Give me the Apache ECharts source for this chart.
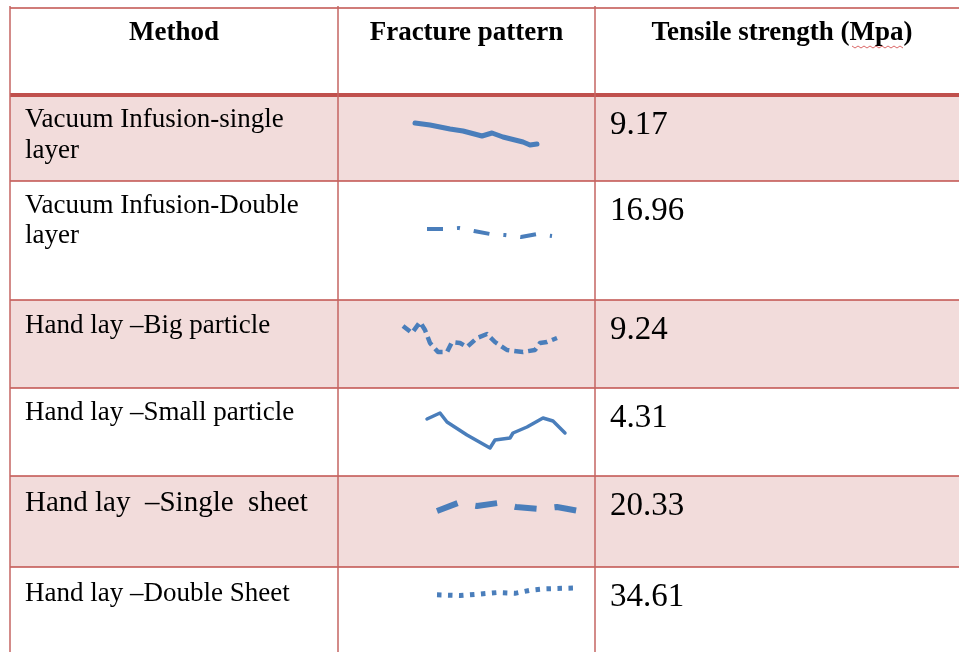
<!DOCTYPE html>
<html>
<head>
<meta charset="utf-8">
<style>
  html, body { margin: 0; padding: 0; background: #fff; }
  #main { width: 959px; height: 652px; }
</style>
<script src="https://cdn.jsdelivr.net/npm/echarts@6/dist/echarts.min.js"></script>
</head>
<body>
<div id="main"></div>
<script>
// table content
const headers = ["Method", "Fracture pattern", "Tensile strength (Mpa)"];
const methods = [
  ["Vacuum Infusion-single", "layer"],
  ["Vacuum Infusion-Double", "layer"],
  ["Hand lay \u2013Big particle"],
  ["Hand lay \u2013Small particle"],
  ["Hand lay  \u2013Single  sheet"],
  ["Hand lay \u2013Double Sheet"]
];
const strengths = ["9.17", "16.96", "9.24", "4.31", "20.33", "34.61"];

// fracture traces, [x, y] in px inside each pattern cell
const trace1 = [[77, 28], [92, 30], [112, 34], [125, 36], [144, 41], [154, 38], [165, 42], [185, 47], [192, 50], [199, 49]];
const trace2 = [[89, 48], [105, 48], [121, 47], [136, 50], [152, 53], [167, 54], [183, 56], [199, 53], [214, 55]];
const trace3 = [[65, 26], [74, 33], [82, 22], [87, 30], [92, 43], [100, 52], [109, 52], [114, 42], [122, 43], [129, 47], [139, 38], [149, 34], [157, 42], [169, 50], [185, 52], [197, 50], [202, 43], [209, 42], [219, 38]];
const trace4 = [[89, 31], [102, 25], [109, 34], [129, 47], [152, 60], [157, 52], [172, 50], [175, 45], [189, 39], [205, 30], [215, 33], [227, 45]];
const trace5 = [[99, 35], [120, 27], [139, 30], [160, 27], [178, 31], [201, 33], [219, 31], [241, 35]];
const trace6 = [[99, 37], [122, 38], [142, 36], [159, 34], [177, 35], [192, 31], [207, 29], [235, 28]];
const traces = [trace1, trace2, trace3, trace4, trace5, trace6];

// layout
const colX = [10, 338, 595, 969];
const headTop = 8;
const rowTops = [95, 181, 300, 388, 476, 567];
const rowBottom = 680;
const red = "#c0504d";
const pink = "#f2dcdb";
const blue = "#4a7ebb";
const serif = "'Liberation Serif', 'Times New Roman', serif";

const lineStyles = [
  { width: 5, type: "solid", cap: "round" },
  { width: 4, type: [16, 14, 3, 14], cap: "butt" },
  { width: 4.5, type: [9, 5], cap: "butt" },
  { width: 3.5, type: "solid", cap: "round" },
  { width: 6, type: [22, 18], cap: "butt" },
  { width: 5, type: [4.5, 6.5], cap: "butt" }
];
const methodSize = [27, 27, 27, 27, 29, 27];
const methodBase = [[127, 158], [213, 243], [333], [420], [512], [601]];
const valueBase = [135, 221, 340, 428, 516, 607];
// verticalAlign bottom sits on the descent, so push baselines down
const desc = (size) => Math.round(size * 0.22);

const rowH = (i) => (i < rowTops.length - 1 ? rowTops[i + 1] : rowBottom) - rowTops[i];

const chart = echarts.init(document.getElementById("main"));

const grids = [], xAxes = [], yAxes = [], series = [];
traces.forEach((t, i) => {
  grids.push({ left: colX[1], top: rowTops[i], width: colX[2] - colX[1], height: rowH(i) });
  xAxes.push({ type: "value", gridIndex: i, min: 0, max: colX[2] - colX[1], show: false });
  yAxes.push({ type: "value", gridIndex: i, min: 0, max: rowH(i), inverse: true, show: false });
  series.push({
    type: "line",
    xAxisIndex: i,
    yAxisIndex: i,
    data: t,
    symbol: "none",
    silent: true,
    lineStyle: Object.assign({ color: blue, join: "round" }, lineStyles[i])
  });
});

const graphics = [];
// pink rows
rowTops.forEach((top, i) => {
  if (i % 2 === 0) {
    graphics.push({ type: "rect", z: 0, shape: { x: colX[0], y: top, width: 980, height: rowH(i) }, style: { fill: pink } });
  }
});
// horizontal rules
graphics.push({ type: "line", z: 1, shape: { x1: colX[0], y1: headTop, x2: 980, y2: headTop }, style: { stroke: red, lineWidth: 1.5 } });
rowTops.forEach((top, i) => {
  graphics.push({ type: "line", z: 1, shape: { x1: colX[0], y1: top, x2: 980, y2: top }, style: { stroke: red, lineWidth: i === 0 ? 4 : 1.5 } });
});
// vertical rules
[colX[0], colX[1], colX[2]].forEach((x) => {
  graphics.push({ type: "line", z: 1, shape: { x1: x, y1: headTop - 2, x2: x, y2: 660 }, style: { stroke: "#c46462", lineWidth: 1.5 } });
});
// headers
headers.forEach((h, j) => {
  graphics.push({
    type: "text", z: 3,
    style: { text: h, x: (colX[j] + colX[j + 1]) / 2, y: 41 + desc(27), font: "bold 27px " + serif, fill: "#000", align: "center", verticalAlign: "bottom" }
  });
});
// spell-check squiggle under Mpa
const sq = [];
for (let x = 852; x <= 905; x += 3) sq.push([x, (x / 3) % 2 === 0 ? 46 : 48]);
graphics.push({ type: "polyline", z: 3, shape: { points: sq }, style: { stroke: "#d04040", lineWidth: 0.8, fill: null } });
// method names
methods.forEach((lines, i) => {
  lines.forEach((txt, k) => {
    graphics.push({
      type: "text", z: 3,
      style: { text: txt, x: 25, y: methodBase[i][k] + desc(methodSize[i]), font: methodSize[i] + "px " + serif, fill: "#000", align: "left", verticalAlign: "bottom" }
    });
  });
});
// strengths
strengths.forEach((v, i) => {
  graphics.push({
    type: "text", z: 3,
    style: { text: v, x: 610, y: valueBase[i] + desc(33), font: "33px " + serif, fill: "#000", align: "left", verticalAlign: "bottom" }
  });
});

chart.setOption({
  animation: false,
  backgroundColor: "#fff",
  grid: grids,
  xAxis: xAxes,
  yAxis: yAxes,
  series: series,
  graphic: { elements: graphics }
});
</script>
</body>
</html>
